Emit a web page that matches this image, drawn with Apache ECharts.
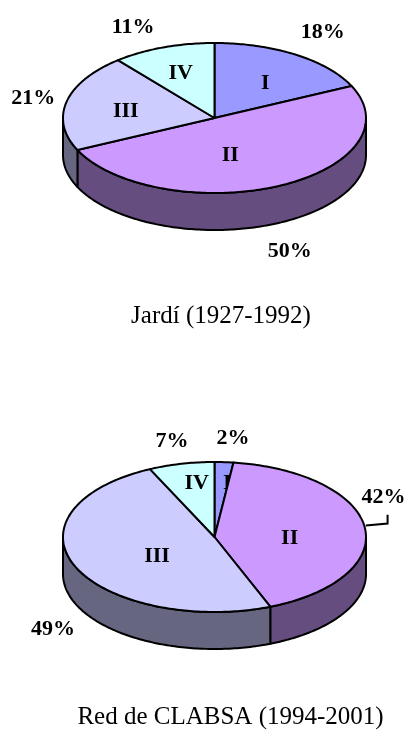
<!DOCTYPE html>
<html>
<head>
<meta charset="utf-8">
<script src="https://cdn.jsdelivr.net/npm/echarts@6/dist/echarts.min.js"></script>
<style>
  html, body { margin: 0; padding: 0; background: #fff; }
  #chart { width: 410px; height: 747px; }
</style>
</head>
<body>
<div id="chart"></div>
<script>
// Slice names and shares (%) for both networks
const sliceNames = ['I', 'II', 'III', 'IV'];
const jardiValues = [18, 50, 21, 11];
const clabsaValues = [2, 42, 49, 7];
const titles = ['Jardí (1927-1992)', 'Red de CLABSA (1994-2001)'];

// Top face colours; the side walls use the same hue at half brightness
const topColors = ['#9999FF', '#CC99FF', '#CCCCFF', '#CCFFFF'];

function shade(hex, f) {
  const n = parseInt(hex.slice(1), 16);
  const r = Math.round(((n >> 16) & 255) * f);
  const g = Math.round(((n >> 8) & 255) * f);
  const b = Math.round((n & 255) * f);
  return 'rgb(' + r + ',' + g + ',' + b + ')';
}

// Geometry of each tilted pie (ellipse radii, wall depth) and label nudges
const pieLayouts = [
  {
    values: jardiValues, cx: 214.5, cy: 118, rx: 151.5, ry: 75, depth: 37,
    innerNudge: [[2, 3], [-23, -3], [0, 3], [-3, -2]],
    outerNudge: [[11, 3], [-2, 1], [-4, 3], [-20, 8]],
    leader: [false, false, false, false],
    title: { x: 221, y: 316 }
  },
  {
    values: clabsaValues, cx: 214.5, cy: 537, rx: 151.5, ry: 75, depth: 37,
    innerNudge: [[7, -9], [-15, 7], [26, 1], [2, -10]],
    outerNudge: [[7, 6], [-11, -27], [5, 14], [-3, 7]],
    leader: [false, true, false, false],
    title: { x: 230.5, y: 717 }
  }
];

const STROKE = '#000';
const LINE_W = 2;
const LABEL_FONT = 'bold 22px "Liberation Serif", "Times New Roman", serif';
const TITLE_FONT = '25px "Liberation Serif", "Times New Roman", serif';

// angle measured clockwise from 12 o'clock, in degrees
function pt(L, deg, k, dy) {
  const a = deg * Math.PI / 180;
  return [L.cx + L.rx * k * Math.sin(a), L.cy - L.ry * k * Math.cos(a) + (dy || 0)];
}

function arc(L, a0, a1, dy) {
  const pts = [];
  const steps = Math.max(2, Math.ceil((a1 - a0) / 1));
  for (let i = 0; i <= steps; i++) {
    pts.push(pt(L, a0 + (a1 - a0) * i / steps, 1, dy));
  }
  return pts;
}

function sliceAngles(values, idx) {
  const total = values.reduce((s, v) => s + v, 0);
  let before = 0;
  for (let i = 0; i < idx; i++) before += values[i];
  const a0 = before / total * 360;
  const a1 = (before + values[idx]) / total * 360;
  return { a0, a1, mid: (a0 + a1) / 2, pct: Math.round(values[idx] / total * 100) };
}

// Front walls: only the part of each slice between 90° and 270° faces the viewer
function renderSide(L) {
  return function (params, api) {
    const v = api.value(0);
    const vals = L.values.slice();
    vals[params.dataIndex] = v;
    const s = sliceAngles(vals, params.dataIndex);
    const a = Math.max(s.a0, 90), b = Math.min(s.a1, 270);
    if (b <= a) return { type: 'group', children: [] };
    const top = arc(L, a, b, 0);
    const bottom = arc(L, a, b, L.depth).reverse();
    return {
      type: 'polygon',
      shape: { points: top.concat(bottom) },
      style: { fill: shade(topColors[params.dataIndex], 0.5), stroke: STROKE, lineWidth: LINE_W, lineJoin: 'round' }
    };
  };
}

// Top faces with the roman-numeral slice names inside
function renderTop(L) {
  return function (params, api) {
    const v = api.value(0);
    const vals = L.values.slice();
    vals[params.dataIndex] = v;
    const s = sliceAngles(vals, params.dataIndex);
    const pts = [[L.cx, L.cy]].concat(arc(L, s.a0, s.a1, 0));
    const inner = pt(L, s.mid, 0.6, 0);
    const n = L.innerNudge[params.dataIndex];
    return {
      type: 'group',
      children: [
        {
          type: 'polygon',
          shape: { points: pts },
          style: { fill: topColors[params.dataIndex], stroke: STROKE, lineWidth: LINE_W, lineJoin: 'round' }
        },
        {
          type: 'text',
          style: {
            text: sliceNames[params.dataIndex],
            x: inner[0] + n[0], y: inner[1] + n[1],
            textAlign: 'center', textVerticalAlign: 'middle',
            align: 'center', verticalAlign: 'middle',
            font: LABEL_FONT, fill: '#000'
          }
        }
      ]
    };
  };
}

// Percentage labels outside the pie, with an optional leader line
function renderOuter(L) {
  return function (params, api) {
    const v = api.value(0);
    const vals = L.values.slice();
    vals[params.dataIndex] = v;
    const s = sliceAngles(vals, params.dataIndex);
    const a = s.mid * Math.PI / 180;
    const front = Math.cos(a) < 0 ? L.depth : 0;
    const edge = pt(L, s.mid, 1, front);
    const n = L.outerNudge[params.dataIndex];
    const lx = edge[0] + 30 * Math.sin(a) + n[0];
    const ly = edge[1] - 30 * Math.cos(a) + n[1];
    const children = [{
      type: 'text',
      style: {
        text: s.pct + '%', x: lx, y: ly,
        textAlign: 'center', textVerticalAlign: 'middle',
        align: 'center', verticalAlign: 'middle',
        font: LABEL_FONT, fill: '#000'
      }
    }];
    if (L.leader[params.dataIndex]) {
      const e = pt(L, s.mid, 1, 0);
      children.push({
        type: 'polyline',
        shape: { points: [[e[0] + 1, e[1] - 2], [lx + 4, e[1] - 4], [lx + 4, ly + 18]] },
        style: { stroke: STROKE, lineWidth: LINE_W, fill: null }
      });
    }
    return { type: 'group', children };
  };
}

const series = [];
pieLayouts.forEach((L) => {
  const data = L.values.map((v, i) => ({ name: sliceNames[i], value: [v] }));
  series.push({ type: 'custom', coordinateSystem: 'none', z: 1, silent: true, renderItem: renderSide(L), data });
  series.push({ type: 'custom', coordinateSystem: 'none', z: 2, silent: true, renderItem: renderTop(L), data });
  series.push({ type: 'custom', coordinateSystem: 'none', z: 3, silent: true, renderItem: renderOuter(L), data });
});

const chart = echarts.init(document.getElementById('chart'), null, { renderer: 'canvas' });
chart.setOption({
  backgroundColor: '#ffffff',
  animation: false,
  graphic: pieLayouts.map((L, i) => ({
    type: 'text',
    x: L.title.x, y: L.title.y,
    style: {
      text: titles[i],
      textAlign: 'center', textVerticalAlign: 'middle',
      align: 'center', verticalAlign: 'middle',
      font: TITLE_FONT, fill: '#000'
    }
  })),
  series
});
</script>
</body>
</html>
